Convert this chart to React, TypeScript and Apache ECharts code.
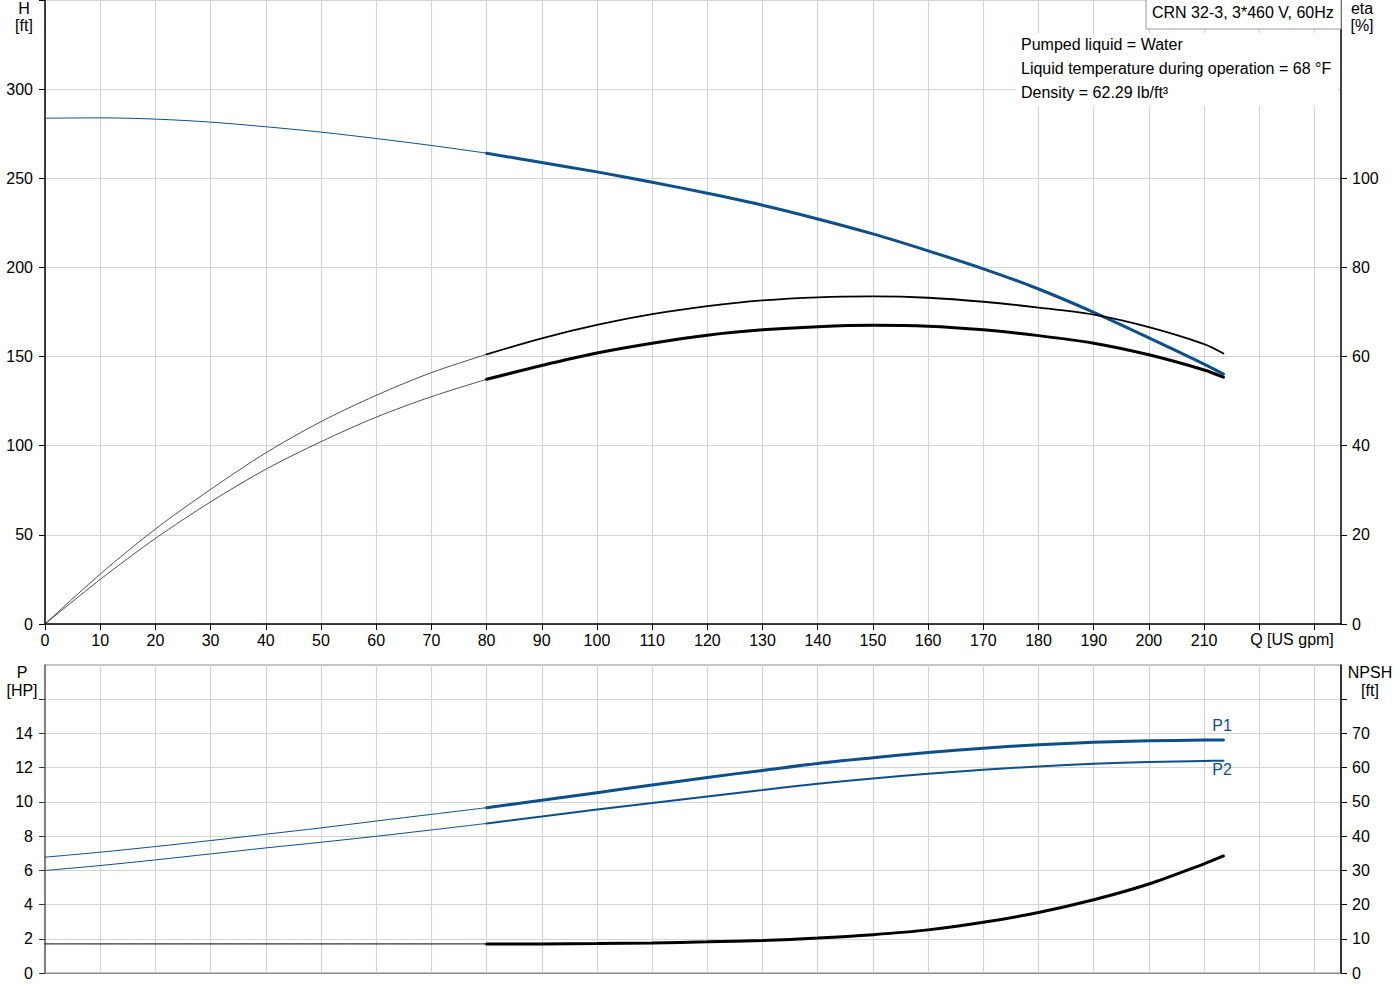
import { useEffect, useRef } from "react";
import * as echarts from "echarts";

const BLUE = "#0d4f8b";
const GRID = "#d4d4d4";
const FONT = "'Liberation Sans', Arial, sans-serif";

// flow [US gpm]: thin part up to 80, thick part from 80 to the end
const qLow = [0, 10, 20, 30, 40, 50, 60, 70, 80];
const qHigh = [80, 90, 100, 110, 120, 130, 140, 150, 160, 170, 180, 190, 200, 210, 213.5];

// head H [ft]
const headLow = [283.7, 283.9, 283.2, 281.5, 278.9, 275.9, 272.3, 268.4, 264.1];
const headHigh = [264.1, 258.8, 253.6, 247.8, 241.6, 234.9, 227.2, 218.8, 209.3, 199.2, 187.9, 174.8, 160.5, 145.8, 140.2];

// efficiency eta [%] (pump, and pump + motor)
const etaLow = [0, 11.2, 21.3, 30.2, 38.4, 45.4, 51.3, 56.4, 60.5];
const etaHigh = [60.5, 64.1, 67.1, 69.5, 71.3, 72.6, 73.3, 73.5, 73.2, 72.3, 71.0, 69.4, 66.6, 62.8, 60.7];
const etaTotLow = [0, 10.0, 19.2, 27.4, 34.7, 40.9, 46.4, 51.0, 54.9];
const etaTotHigh = [54.9, 58.0, 60.8, 63.0, 64.8, 66.0, 66.7, 67.0, 66.8, 66.0, 64.7, 63.0, 60.4, 57.0, 55.4];

// power P [HP]
const p1Low = [6.77, 7.06, 7.39, 7.74, 8.11, 8.48, 8.88, 9.27, 9.66];
const p1High = [9.66, 10.09, 10.54, 10.99, 11.43, 11.84, 12.25, 12.58, 12.89, 13.14, 13.34, 13.48, 13.57, 13.61, 13.62];
const p2Low = [5.99, 6.28, 6.61, 6.96, 7.31, 7.64, 7.99, 8.36, 8.74];
const p2High = [8.74, 9.14, 9.56, 9.93, 10.32, 10.69, 11.06, 11.37, 11.64, 11.88, 12.07, 12.23, 12.33, 12.39, 12.41];

// NPSH [ft]
const npshLow = [8.5, 8.5, 8.5, 8.5, 8.5, 8.5, 8.5, 8.5, 8.5];
const npshHigh = [8.5, 8.5, 8.6, 8.8, 9.1, 9.5, 10.2, 11.2, 12.6, 14.8, 17.7, 21.4, 26.0, 31.9, 34.2];

// axis ticks
const qMax = 234.8;
const qTicks = [0, 10, 20, 30, 40, 50, 60, 70, 80, 90, 100, 110, 120, 130, 140, 150, 160, 170, 180, 190, 200, 210, 220, 230];
const qLabels = [0, 10, 20, 30, 40, 50, 60, 70, 80, 90, 100, 110, 120, 130, 140, 150, 160, 170, 180, 190, 200, 210];
const headLabels = [0, 50, 100, 150, 200, 250, 300];
const etaLabels = [0, 20, 40, 60, 80, 100];
const powerTicks = [0, 2, 4, 6, 8, 10, 12, 14, 16];
const powerLabels = [0, 2, 4, 6, 8, 10, 12, 14];
const npshTicks = [0, 10, 20, 30, 40, 50, 60, 70, 80];
const npshLabels = [0, 10, 20, 30, 40, 50, 60, 70];

const zip = (q: number[], v: number[]) => q.map((x, i) => [x, v[i]]);

function line(q: number[], v: number[], xi: number, yi: number, color: string, width: number) {
  return {
    type: "line" as const,
    xAxisIndex: xi,
    yAxisIndex: yi,
    data: zip(q, v),
    smooth: 0.3,
    showSymbol: false,
    symbol: "none",
    silent: true,
    lineStyle: { color, width, cap: "round" as const },
  };
}

const labelStyle = { color: "#000", fontSize: 16, fontFamily: FONT };

function text(x: number, y: number, str: string, align = "center", color = "#000") {
  return {
    type: "text",
    x,
    y,
    z: 20,
    style: { text: str, fill: color, font: `16px ${FONT}`, align, verticalAlign: "middle" },
  };
}

function buildOption(): echarts.EChartsOption {
  const xBase = { type: "value" as const, min: 0, max: qMax, interval: 10 };
  return {
    animation: false,
    backgroundColor: "#fff",
    grid: [
      { left: 45, right: 59, top: 0, height: 624, show: false },
      { left: 45, right: 59, top: 665, height: 308, show: true, borderColor: "#888", borderWidth: 1 },
    ],
    xAxis: [
      {
        ...xBase,
        gridIndex: 0,
        axisLine: { lineStyle: { color: "#000", width: 1.5 } },
        axisTick: { show: true, length: 6, lineStyle: { color: "#000" }, customValues: qTicks },
        axisLabel: { ...labelStyle, margin: 8, customValues: qLabels },
        splitLine: { show: true, lineStyle: { color: GRID, width: 1.2 } },
      },
      {
        ...xBase,
        gridIndex: 1,
        axisLine: { lineStyle: { color: "#888", width: 1 } },
        axisTick: { show: false },
        axisLabel: { show: false },
        splitLine: { show: true, lineStyle: { color: GRID, width: 1.2 } },
      },
    ],
    yAxis: [
      {
        type: "value",
        gridIndex: 0,
        position: "left",
        min: 0,
        max: 350,
        interval: 50,
        axisLine: { show: true, lineStyle: { color: "#000", width: 1.5 } },
        axisTick: { show: true, length: 6, lineStyle: { color: "#000" } },
        axisLabel: { ...labelStyle, margin: 12, customValues: headLabels },
        splitLine: { show: true, lineStyle: { color: GRID, width: 1.2 } },
      },
      {
        type: "value",
        gridIndex: 0,
        position: "right",
        min: 0,
        max: 140,
        interval: 20,
        axisLine: { show: true, lineStyle: { color: "#000", width: 1.5 } },
        axisTick: { show: true, length: 6, lineStyle: { color: "#000" }, customValues: etaLabels },
        axisLabel: { ...labelStyle, margin: 11, customValues: etaLabels },
        splitLine: { show: false },
      },
      {
        type: "value",
        gridIndex: 1,
        position: "left",
        min: 0,
        max: 18,
        interval: 2,
        axisLine: { show: true, lineStyle: { color: "#666", width: 1.5 } },
        axisTick: { show: true, length: 6, lineStyle: { color: "#333" }, customValues: powerTicks },
        axisLabel: { ...labelStyle, margin: 12, customValues: powerLabels },
        splitLine: { show: true, lineStyle: { color: GRID, width: 1.2 } },
      },
      {
        type: "value",
        gridIndex: 1,
        position: "right",
        min: 0,
        max: 90,
        interval: 10,
        axisLine: { show: true, lineStyle: { color: "#000", width: 1.5 } },
        axisTick: { show: true, length: 6, lineStyle: { color: "#000" }, customValues: npshTicks },
        axisLabel: { ...labelStyle, margin: 11, customValues: npshLabels },
        splitLine: { show: false },
      },
    ],
    series: [
      line(qLow, headLow, 0, 0, BLUE, 1),
      line(qHigh, headHigh, 0, 0, BLUE, 3),
      line(qLow, etaLow, 0, 1, "#222", 0.8),
      line(qHigh, etaHigh, 0, 1, "#000", 1.8),
      line(qLow, etaTotLow, 0, 1, "#222", 0.8),
      line(qHigh, etaTotHigh, 0, 1, "#000", 3),
      line(qLow, p1Low, 1, 2, BLUE, 1),
      line(qHigh, p1High, 1, 2, BLUE, 3),
      line(qLow, p2Low, 1, 2, BLUE, 1),
      line(qHigh, p2High, 1, 2, BLUE, 2),
      line(qLow, npshLow, 1, 3, "#000", 1),
      line(qHigh, npshHigh, 1, 3, "#000", 3),
    ],
    graphic: [
      text(24, 8, "H"),
      text(24, 25, "[ft]"),
      text(1362, 8, "eta"),
      text(1362, 25, "[%]"),
      text(22, 672, "P"),
      text(22, 690, "[HP]"),
      text(1370, 672, "NPSH"),
      text(1370, 690, "[ft]"),
      {
        type: "rect",
        z: 15,
        shape: { x: 1016, y: 33, width: 322, height: 73 },
        style: { fill: "#fff" },
      },
      text(1021, 44, "Pumped liquid = Water", "left"),
      text(1021, 68, "Liquid temperature during operation = 68 °F", "left"),
      text(1021, 92, "Density = 62.29 lb/ft³", "left"),
      {
        type: "rect",
        z: 15,
        shape: { x: 1146, y: -2, width: 195, height: 31 },
        style: { fill: "#fff", stroke: "#999", lineWidth: 1 },
      },
      text(1152, 12, "CRN 32-3, 3*460 V, 60Hz", "left"),
      {
        type: "rect",
        z: 15,
        shape: { x: 1250, y: 630, width: 86, height: 20 },
        style: { fill: "#fff" },
      },
      text(1292, 639, "Q [US gpm]"),
      text(1222, 725, "P1", "center", BLUE),
      text(1222, 769, "P2", "center", BLUE),
    ],
  } as echarts.EChartsOption;
}

export default function App() {
  const el = useRef<HTMLDivElement>(null);

  useEffect(() => {
    if (!el.current) return;
    const chart = echarts.init(el.current, undefined, { renderer: "svg" });
    chart.setOption(buildOption());
    return () => chart.dispose();
  }, []);

  return (
    <div
      ref={el}
      style={{ position: "absolute", left: 0, top: 0, width: 1400, height: 1000, background: "#fff" }}
    />
  );
}
